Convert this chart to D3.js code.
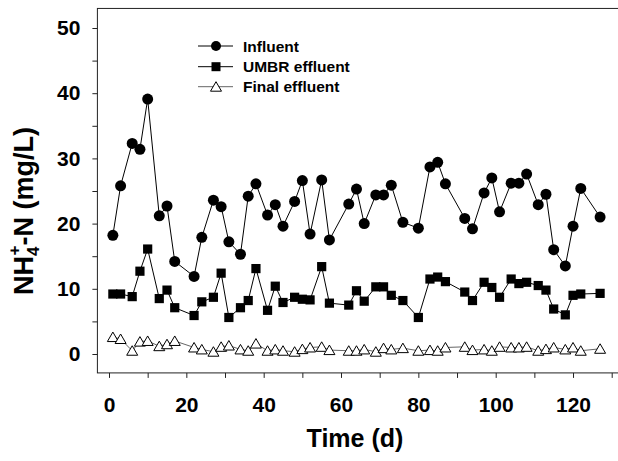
<!DOCTYPE html>
<html><head><meta charset="utf-8">
<script src="https://cdn.jsdelivr.net/npm/d3@7"></script>
<style>body{margin:0;background:#fff}svg{display:block}text{font-family:Arial,"Liberation Sans",sans-serif;font-weight:bold}</style>
</head><body><svg id="c" width="618" height="461"></svg>
<script>
const days = [1,3,6,8,10,13,15,17,22,24,27,29,31,34,36,38,41,43,45,48,50,52,55,57,62,64,66,69,71,73,76,80,83,85,87,92,94,97,99,101,104,106,108,111,113,115,118,120,122,127];
const influent = [18.2,25.8,32.3,31.4,39.1,21.2,22.7,14.2,11.9,17.9,23.6,22.6,17.2,15.3,24.2,26.1,21.3,22.9,19.6,23.4,26.6,18.4,26.7,17.5,23.0,25.3,20.0,24.4,24.4,25.9,20.2,19.3,28.7,29.4,26.1,20.8,19.2,24.7,27.0,21.8,26.2,26.2,27.6,22.9,24.5,16.0,13.5,19.6,25.4,21.0];
const umbr = [9.2,9.2,8.8,12.7,16.1,8.5,9.8,7.1,5.9,8.0,8.7,12.4,5.6,7.1,8.2,13.1,6.7,10.4,7.9,8.7,8.4,8.3,13.4,7.8,7.5,9.7,8.1,10.3,10.3,9.0,8.2,5.6,11.5,11.8,11.1,9.5,8.2,11.0,10.2,8.7,11.5,10.8,11.0,10.5,9.8,6.9,6.0,9.0,9.2,9.3];
const finalEff = [2.6,2.3,0.5,1.9,2.0,1.2,1.5,2.0,1.0,0.7,0.35,1.1,1.3,0.7,0.5,1.6,0.5,0.7,0.5,0.35,0.75,1.0,1.1,0.6,0.5,0.5,0.7,0.35,0.9,0.7,0.9,0.5,0.6,0.5,1.0,1.1,0.6,0.7,0.5,1.1,1.0,1.0,1.1,0.5,0.75,1.0,0.7,1.0,0.5,0.8];
const xTicks = [0,20,40,60,80,100,120];
const xMinor = [10,30,50,70,90,110,130];
const yTicks = [0,10,20,30,40,50];
const yMinor = [5,15,25,35,45];
const seriesNames = ["Influent","UMBR effluent","Final effluent"];

const svg = d3.select("#c");
const x = d3.scaleLinear().domain([0,130]).range([109,611.7]);
const y = d3.scaleLinear().domain([0,50]).range([354,28]);
const xMin=-3, xMax=133, yMin=-2.9, yMax=53;
const FF = "Arial, 'Liberation Sans', sans-serif";

// frame (right side runs past the picture edge, as in the reference)
svg.append("rect").attr("x",x(xMin)).attr("y",y(yMax)).attr("width",x(xMax)-x(xMin)).attr("height",y(yMin)-y(yMax))
  .attr("fill","none").attr("stroke","#222").attr("stroke-width",1);

const gx = svg.append("g").attr("transform",`translate(0,${y(yMin)})`);
gx.call(d3.axisBottom(x).tickValues(xTicks).tickSize(5).tickPadding(19).tickFormat(d3.format("d")));
gx.append("g").call(d3.axisBottom(x).tickValues(xMinor).tickSize(5).tickFormat(""));
gx.selectAll(".domain").remove();
gx.selectAll("text").attr("font-size",21).attr("fill","#000").style("font-family",FF).style("font-weight","bold");
gx.selectAll("line").attr("stroke","#222");

const gy = svg.append("g").attr("transform",`translate(${x(xMin)},0)`);
gy.call(d3.axisLeft(y).tickValues(yTicks).tickSize(5).tickPadding(12).tickFormat(d3.format("d")));
gy.append("g").call(d3.axisLeft(y).tickValues(yMinor).tickSize(5).tickFormat(""));
gy.selectAll(".domain").remove();
gy.selectAll("text").attr("font-size",21).attr("fill","#000").style("font-family",FF).style("font-weight","bold");
gy.selectAll("line").attr("stroke","#222");

// axis titles
svg.append("text").attr("x",355).attr("y",447).attr("text-anchor","middle").attr("font-size",25).text("Time (d)");
const yt = svg.append("text").attr("transform","translate(33,211) rotate(-90)").attr("text-anchor","middle").attr("font-size",27);
yt.append("tspan").text("NH");
yt.append("tspan").attr("font-size",17).attr("dy",6).text("4");
yt.append("tspan").attr("font-size",17).attr("dx",-9).attr("dy",-19).text("+");
yt.append("tspan").attr("dy",13).text("-N (mg/L)");

const data = days.map((d,i)=>({d, a:influent[i], b:umbr[i], c:finalEff[i]}));
const line = key => d3.line().x(p=>x(p.d)).y(p=>y(p[key]));

svg.append("path").datum(data).attr("d",line("c")).attr("fill","none").attr("stroke","#666").attr("stroke-width",1);
svg.append("path").datum(data).attr("d",line("b")).attr("fill","none").attr("stroke","#000").attr("stroke-width",1);
svg.append("path").datum(data).attr("d",line("a")).attr("fill","none").attr("stroke","#000").attr("stroke-width",1);

const tri = (cx,cy)=>`M${cx},${cy-5}L${cx+5.5},${cy+4.5}L${cx-5.5},${cy+4.5}Z`;
svg.append("g").selectAll("path").data(data).join("path").attr("d",p=>tri(x(p.d),y(p.c))).attr("fill","#fff").attr("stroke","#000").attr("stroke-width",1);
svg.append("g").selectAll("rect").data(data).join("rect").attr("x",p=>x(p.d)-4.6).attr("y",p=>y(p.b)-4.6).attr("width",9.2).attr("height",9.2).attr("fill","#000");
svg.append("g").selectAll("circle").data(data).join("circle").attr("cx",p=>x(p.d)).attr("cy",p=>y(p.a)).attr("r",5.5).attr("fill","#000");

// legend
const lg = svg.append("g");
const rows = [46,66.7,86.7];
seriesNames.forEach((name,i)=>{
  const ly = rows[i];
  lg.append("line").attr("x1",198).attr("x2",233).attr("y1",ly).attr("y2",ly).attr("stroke",i==2?"#666":"#000");
  if(i==0) lg.append("circle").attr("cx",216).attr("cy",ly).attr("r",5).attr("fill","#000");
  if(i==1) lg.append("rect").attr("x",211.5).attr("y",ly-4.5).attr("width",9).attr("height",9).attr("fill","#000");
  if(i==2) lg.append("path").attr("d",tri(216,ly)).attr("fill","#fff").attr("stroke","#000");
  lg.append("text").attr("x",243).attr("y",ly+5.5).attr("font-size",15.5).text(name);
});
</script></body></html>
